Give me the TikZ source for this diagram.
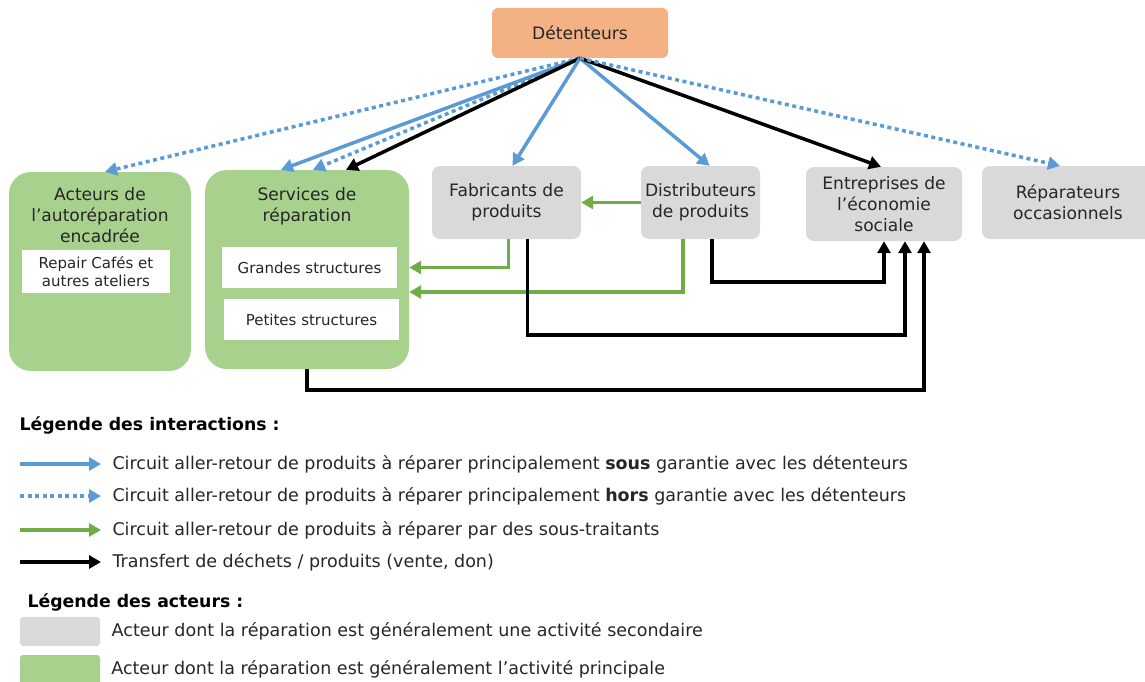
\documentclass[tikz,border=0pt]{standalone}
\usepackage{fontspec}
\setmainfont{DejaVu Sans}
\usetikzlibrary{arrows.meta,positioning}
\definecolor{bleu}{HTML}{5B9BD5}
\definecolor{vert}{HTML}{70AD47}
\definecolor{vertclair}{HTML}{A9D18E}
\definecolor{gris}{HTML}{D9D9D9}
\definecolor{orange}{HTML}{F4B183}
\begin{document}
\begin{tikzpicture}[x=1pt,y=-1pt,
    every node/.style={font=\fontsize{17.1}{21}\selectfont, text=black!85},
    secondaire/.style={fill=gris, rounded corners=8pt, align=center, minimum height=73pt},
    principal/.style={fill=vertclair, rounded corners=22pt, minimum height=199pt},
    interne/.style={fill=white, align=center, font=\fontsize{15}{18}\selectfont},
    legende/.style={anchor=west, font=\fontsize{17.5}{20}\selectfont},
    titre/.style={anchor=west, font=\fontsize{17.3}{20}\selectfont\bfseries, text=black},
    sous/.style={draw=bleu, line width=3.5pt, -{Triangle[length=12pt,width=13pt]}},
    hors/.style={sous, dash pattern=on 4pt off 3.5pt},
    soustrait/.style={draw=vert, line width=3.5pt, -{Triangle[length=12pt,width=13pt]}},
    transfert/.style={draw=black, line width=3.5pt, -{Triangle[length=12pt,width=13pt]}}]
    \useasboundingbox (0,0) rectangle (1145,682);

    % acteurs
    \node[fill=orange, rounded corners=6pt, minimum width=176pt, minimum height=50pt] (det) at (580,33) {Détenteurs};
    \node[principal, minimum width=182pt,
        label={[anchor=north, align=center, yshift=-12pt]north:Acteurs de\\l’autoréparation\\encadrée}] (auto) at (100,271.5) {};
    \node[interne, minimum width=148pt, minimum height=43pt] (rc) at (96,271.5) {Repair Cafés et\\autres ateliers};
    \node[principal, minimum width=204pt,
        label={[anchor=north, align=center, yshift=-14pt]north:Services de\\réparation}] (serv) at (307,269.5) {};
    \node[interne, minimum width=175pt, minimum height=41pt] (gs) at (309.5,267.5) {Grandes structures};
    \node[interne, minimum width=175pt, minimum height=41pt] (ps) at (311.5,319.5) {Petites structures};
    \node[secondaire, minimum width=149pt] (fab) at (506.5,202.5) {Fabricants de\\produits};
    \node[secondaire, minimum width=119pt] (dist) at (700.5,202.5) {Distributeurs\\de produits};
    \node[secondaire, minimum width=156pt, minimum height=74pt] (ess) at (884,204) {Entreprises de\\l’économie\\sociale};
    \node[secondaire, minimum width=172pt] (rep) at (1068,202.5) {Réparateurs\\occasionnels};

    % depuis les detenteurs
    \draw[hors] (det.south) -- ([xshift=5pt]auto.north);
    \draw[sous] (det.south) -- ([xshift=-26pt]serv.north);
    \draw[hors] (det.south) -- ([xshift=6pt]serv.north);
    \draw[transfert] (det.south) -- ([xshift=39pt]serv.north);
    \draw[sous] (det.south) -- ([xshift=6pt]fab.north);
    \draw[sous] (det.south) -- ([xshift=9pt]dist.north);
    \draw[transfert] (det.south) -- ([xshift=-3pt]ess.north);
    \draw[hors] (det.south) -- ([xshift=-8pt]rep.north);

    % sous-traitance
    \draw[soustrait] (dist.west) -- (fab.east);
    \draw[soustrait] ([xshift=2pt]fab.south) |- (serv.east |- gs.east);
    \draw[soustrait] ([xshift=-17.5pt]dist.south) |- ([yshift=-22.5pt]serv.east);

    % dechets / produits
    \draw[transfert] ([xshift=11.5pt]dist.south) -- ++(0,43) -| (ess.south);
    \draw[transfert] ([xshift=21pt]fab.south) -- ++(0,96) -| ([xshift=21pt]ess.south);
    \draw[transfert] (serv.south) -- ++(0,21) -| ([xshift=40pt]ess.south);

    % legende
    \node[titre] (li) at (16,425) {Légende des interactions :};
    \node[legende] (l1) at (109,464) {Circuit aller-retour de produits à réparer principalement \textbf{sous} garantie avec les détenteurs};
    \node[legende] (l2) at (109,496) {Circuit aller-retour de produits à réparer principalement \textbf{hors} garantie avec les détenteurs};
    \node[legende] (l3) at (109,530) {Circuit aller-retour de produits à réparer par des sous-traitants};
    \node[legende] (l4) at (109,562) {Transfert de déchets / produits (vente, don)};
    \draw[sous] ([xshift=-89pt]l1.west) -- ([xshift=-8pt]l1.west);
    \draw[hors] ([xshift=-89pt]l2.west) -- ([xshift=-8pt]l2.west);
    \draw[soustrait] ([xshift=-89pt]l3.west) -- ([xshift=-8pt]l3.west);
    \draw[transfert] ([xshift=-89pt]l4.west) -- ([xshift=-8pt]l4.west);

    \node[titre] (la) at (24,602) {Légende des acteurs :};
    \node[fill=gris, rounded corners=3pt, minimum width=80pt, minimum height=29pt] (cg) at (60,631.5) {};
    \node[fill=vertclair, rounded corners=3pt, minimum width=80pt, minimum height=34pt] (cv) at (60,672) {};
    \node[legende, right=8pt of cg] (a1) {Acteur dont la réparation est généralement une activité secondaire};
    \node[legende, right=8pt of cv.west, xshift=80pt, yshift=3pt] (a2) {Acteur dont la réparation est généralement l’activité principale};
\end{tikzpicture}
\end{document}
